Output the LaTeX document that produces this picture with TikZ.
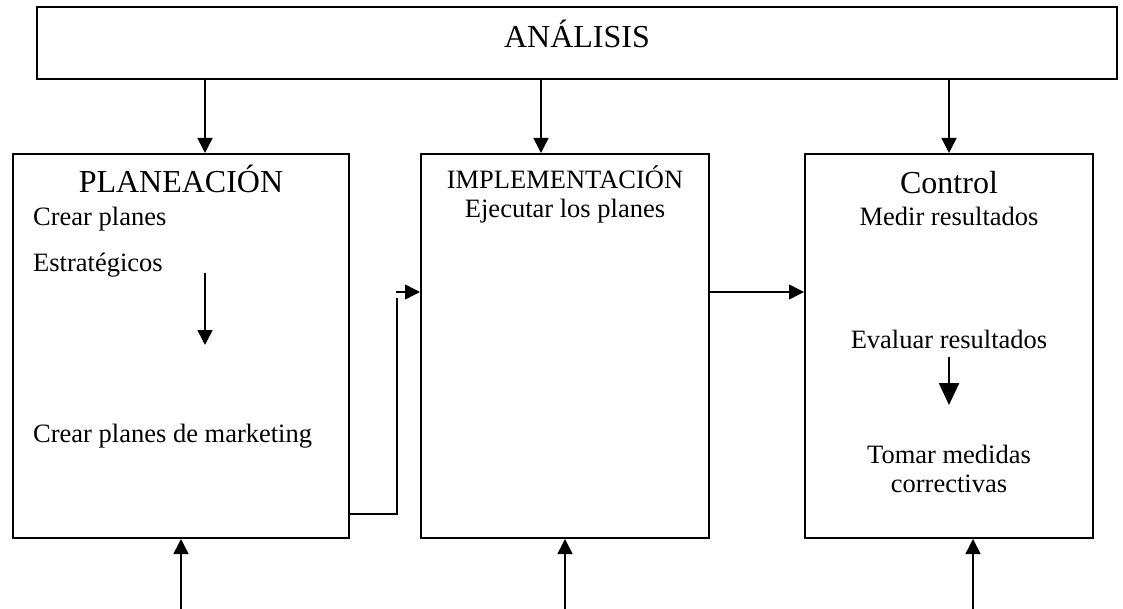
\documentclass[tikz,border=0pt]{standalone}
\usepackage{fontspec}
\setmainfont{Liberation Serif}
\usetikzlibrary{arrows.meta}
\tikzset{
  box/.style={draw, line width=2pt, inner sep=0pt, fill=white},
  conn/.style={line width=1.5pt},
  arr/.style={conn, -{Triangle[length=15pt,width=15pt]}},
  bigarr/.style={line width=2.5pt, -{Triangle[length=22pt,width=20pt]}},
  titletext/.style={font=\fontsize{32}{38}\selectfont, anchor=base, inner sep=0pt},
  bodytext/.style={font=\fontsize{26.5}{31}\selectfont, anchor=base, inner sep=0pt},
  lefttext/.style={bodytext, anchor=base west}
}
\begin{document}
\begin{tikzpicture}[x=1pt,y=-1pt]
\useasboundingbox (0,0) rectangle (1123,609);
% boxes
\node[box, minimum width=1080pt, minimum height=72pt] (top) at (577,43) {};
\node[box, minimum width=336pt, minimum height=384pt] (plan) at (181,346) {};
\node[box, minimum width=288pt, minimum height=384pt] (impl) at (565,346) {};
\node[box, minimum width=288pt, minimum height=384pt] (ctrl) at (949,346) {};
% texts
\node[titletext] (tA) at (577,48) {ANÁLISIS};
\node[titletext] (tP) at (181,193) {PLANEACIÓN};
\node[lefttext] (p1) at (33,226) {Crear planes};
\node[lefttext] (p2) at (33,272) {Estratégicos};
\node[lefttext] (p3) at (33,442) {Crear planes de marketing};
\node[bodytext] (tI) at (565,189) {IMPLEMENTACIÓN};
\node[bodytext] (i1) at (565,218) {Ejecutar los planes};
\node[titletext] (tC) at (949,194) {Control};
\node[bodytext] (c1) at (949,226) {Medir resultados};
\node[bodytext] (c2) at (949,348) {Evaluar resultados};
\node[bodytext] (c3) at (949,463) {Tomar medidas};
\node[bodytext] (c4) at (949,492) {correctivas};
% helper coordinates
\coordinate (xa) at (205,0);
\coordinate (xb) at (541,0);
\coordinate (xc) at (949,0);
\coordinate (xd) at (181,609);
\coordinate (xe) at (565,609);
\coordinate (xf) at (973,609);
\coordinate (pa) at (205,273);
\coordinate (pb) at (205,345);
\coordinate (ca) at (949,357);
\coordinate (cb) at (949,405);
\coordinate (ya) at (0,514);
\coordinate (bend) at (397,298);
\coordinate (start2) at (396,292);
\coordinate (yb) at (0,292);
% top arrows
\draw[arr] (top.south -| xa) -- (plan.north -| xa);
\draw[arr] (top.south -| xb) -- (impl.north -| xb);
\draw[arr] (top.south -| xc) -- (ctrl.north -| xc);
% bottom arrows
\draw[arr] (xd) -- (plan.south -| xd);
\draw[arr] (xe) -- (impl.south -| xe);
\draw[arr] (xf) -- (ctrl.south -| xf);
% inner arrows
\draw[arr] (pa) -- (pb);
\draw[bigarr] (ca) -- (cb);
% planning to implementation
\draw[conn] (plan.east |- ya) -| (bend);
\draw[arr] (start2) -- (impl.west |- start2);
% implementation to control
\draw[arr] (impl.east |- yb) -- (ctrl.west |- yb);
\end{tikzpicture}
\end{document}
